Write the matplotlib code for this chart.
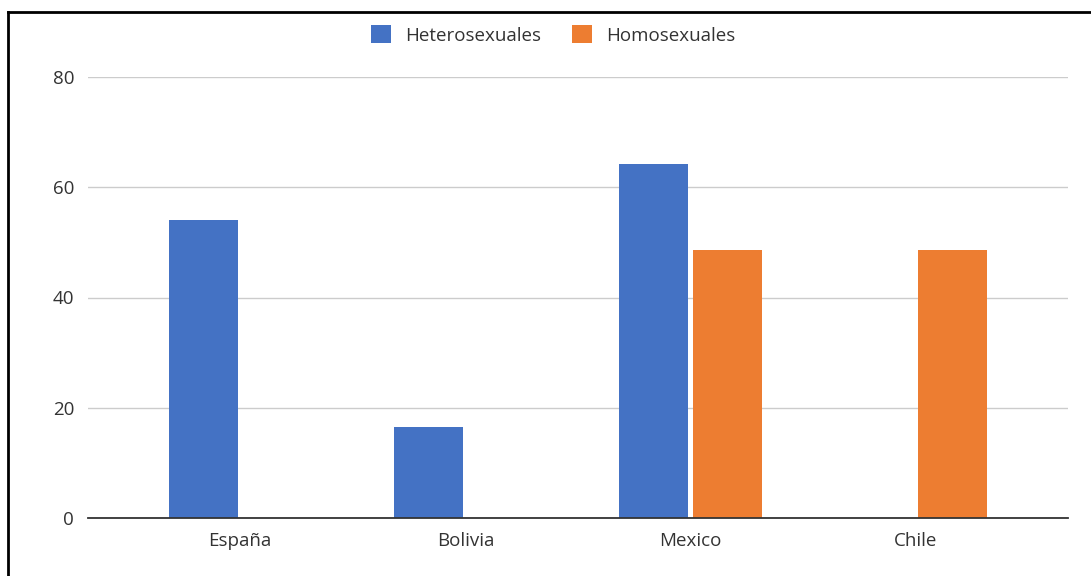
import numpy as np
import matplotlib
matplotlib.use('Agg')
import matplotlib.pyplot as plt
from matplotlib.lines import Line2D

plt.rcParams['font.family'] = ['Open Sans', 'DejaVu Sans']

# Data
countries = ['España', 'Bolivia', 'Mexico', 'Chile']
hetero = [54, 16.5, 64.2, 0]
homo = [0, 0, 48.7, 48.7]
series_names = ['Heterosexuales', 'Homosexuales']
colors = ['#4472c4', '#ed7d31']
yticks = [0, 20, 40, 60, 80]

fig = plt.figure(figsize=(10.91, 5.76), dpi=100)
ax = fig.add_axes([88 / 1091, 58 / 576, 980 / 1091, 441 / 576])

x = np.arange(len(countries))
w = 0.307
gap = 0.011
ax.bar(x - w / 2 - gap, hetero, width=w, color=colors[0], label=series_names[0], zorder=3)
ax.bar(x + w / 2 + gap, homo, width=w, color=colors[1], label=series_names[1], zorder=3)

ax.set_xlim(-0.676, 3.676)
ax.set_ylim(0, 80)
ax.set_yticks(yticks)
ax.set_xticks(x)
ax.set_xticklabels(countries)
ax.tick_params(axis='both', length=0, labelsize=13.5, colors='#333333')
ax.tick_params(axis='y', pad=10)
ax.tick_params(axis='x', pad=10)
ax.grid(axis='y', color='#cccccc', linewidth=1, zorder=0)
for s in ['top', 'right', 'left']:
    ax.spines[s].set_visible(False)
ax.spines['bottom'].set_color('#333333')
ax.spines['bottom'].set_linewidth(1.3)
ax.spines['bottom'].set_zorder(4)

fig.legend(loc='center', bbox_to_anchor=(0.507, 1 - 35 / 576), ncol=2, frameon=False,
           fontsize=13.5, handlelength=1.1, handleheight=1.1, handletextpad=0.75,
           columnspacing=1.6, labelcolor='#333333')

# frame lines on top and left of the picture
fig.add_artist(Line2D([8 / 1091, 1], [1 - 12 / 576, 1 - 12 / 576], color='black', linewidth=2))
fig.add_artist(Line2D([8 / 1091, 8 / 1091], [0, 1 - 12 / 576], color='black', linewidth=2))

fig.savefig('out.png', dpi=100)
